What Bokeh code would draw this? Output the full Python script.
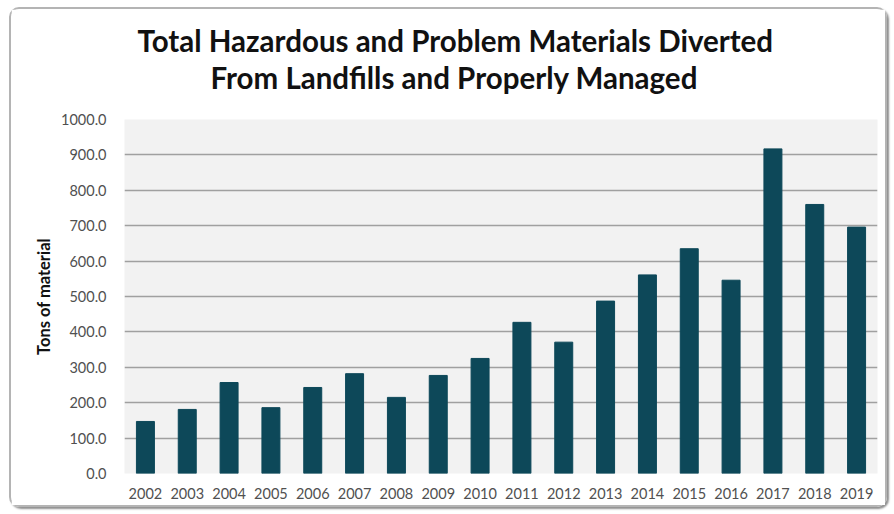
from bokeh.plotting import figure
from bokeh.models import Title, NumeralTickFormatter, Range1d, FixedTicker
from bokeh.embed import file_html
from bokeh.resources import INLINE

years = ["2002", "2003", "2004", "2005", "2006", "2007", "2008", "2009", "2010",
         "2011", "2012", "2013", "2014", "2015", "2016", "2017", "2018", "2019"]
tons = [147, 181, 257, 186, 243, 282, 215, 277, 325,
        427, 371, 487, 561, 635, 546, 917, 760, 696]
y_ticks = [0, 100, 200, 300, 400, 500, 600, 700, 800, 900, 1000]

title_line1 = "Total Hazardous and Problem Materials Diverted"
title_line2 = "From Landfills and Properly Managed"
y_label = "Tons of material"

p = figure(x_range=years, y_range=Range1d(0, 1000), width=878, height=500,
           output_backend="svg", toolbar_location=None,
           min_border_left=113, min_border_right=12, min_border_top=110, min_border_bottom=36)
p.styles = {"border": "2px solid #b4b4b4", "border-radius": "10px",
            "margin-left": "9px", "margin-top": "7px",
            "box-shadow": "2px 2px 2px #909090"}

p.vbar(x=years, top=tons, width=0.43, color="#0d4859")

p.background_fill_color = "#f2f2f2"
p.border_fill_color = "white"
p.outline_line_color = None

# spacer between the title block and the plot area
p.add_layout(Title(text=" ", text_font_size="10px", standoff=12), "above")
p.add_layout(Title(text=title_line2, align="left", offset=86, standoff=0, text_font="Lato",
                   text_font_size="29.5px", text_font_style="bold", text_color="#111111"), "above")
p.add_layout(Title(text=title_line1, align="left", offset=13, standoff=0, text_font="Lato",
                   text_font_size="29.5px", text_font_style="bold", text_color="#111111"), "above")

p.yaxis.ticker = FixedTicker(ticks=y_ticks)
p.yaxis.formatter = NumeralTickFormatter(format="0.0")
p.yaxis.axis_label = y_label
p.yaxis.axis_label_text_font = "Lato"
p.yaxis.axis_label_text_font_style = "bold"
p.yaxis.axis_label_text_font_size = "16.5px"
p.yaxis.axis_label_text_color = "#111111"
p.yaxis.axis_label_standoff = 4
p.yaxis.major_label_text_font = "Lato"
p.yaxis.major_label_text_font_size = "14.5px"
p.yaxis.major_label_text_color = "#505050"
p.yaxis.axis_line_color = None
p.yaxis.major_tick_line_color = None
p.yaxis.minor_tick_line_color = None
p.yaxis.major_label_standoff = 12

p.xaxis.major_label_text_font = "Lato"
p.xaxis.major_label_text_font_size = "14.5px"
p.xaxis.major_label_text_color = "#505050"
p.xaxis.axis_line_color = None
p.xaxis.major_tick_line_color = None
p.xaxis.major_label_standoff = 8

p.ygrid.grid_line_color = "#a0a0a0"
p.ygrid.grid_line_width = 1.5
p.xgrid.grid_line_color = None

open("out.html", "w").write(file_html(p, INLINE))
